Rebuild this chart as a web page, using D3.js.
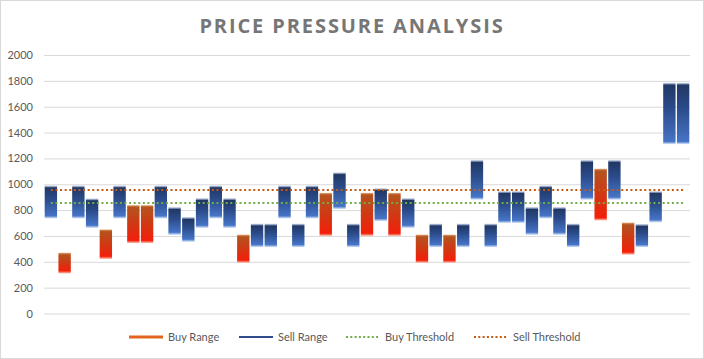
<!DOCTYPE html>
<html><head><meta charset="utf-8">
<script src="https://cdn.jsdelivr.net/npm/d3@7"></script>
<style>html,body{margin:0;padding:0;background:#fff;}svg{display:block;}</style>
</head><body><svg id="c" width="704" height="359"></svg>
<script>
const categories = d3.range(1, 48).map(String);
const buyValues = [735,470,735,662,650,735,838,838,735,608,554,662,735,662,610,513,513,735,513,735,933,808,513,933,715,933,662,610,513,610,513,880,513,700,700,608,735,608,513,880,1120,880,703,513,705,1310,1310];
const sellValues = [990,310,990,890,422,990,545,545,990,823,746,892,990,892,392,695,695,990,695,990,600,1092,695,600,969,600,892,392,695,392,695,1187,695,946,946,823,990,823,695,1187,720,1187,455,692,946,1785,1785];
const buyThreshold = categories.map(() => 855);
const sellThreshold = categories.map(() => 955);
const yTicks = [0,200,400,600,800,1000,1200,1400,1600,1800,2000];
const legendLabels = ["Buy Range","Sell Range","Buy Threshold","Sell Threshold"];
const titleText = "PRICE PRESSURE ANALYSIS";

(function(){
const svg = d3.select("#c");
const W = 704, H = 359;
const pL = 44, pR = 690, pT = 55, pB = 313.5;
const font = "Lato, 'Open Sans', sans-serif";

svg.append("rect").attr("x",0.5).attr("y",0.5).attr("width",W-1).attr("height",H-1)
  .attr("fill","#fff").attr("stroke","#d9d9d9");

const x = d3.scaleBand().domain(categories).range([pL,pR]).paddingInner(0.1).paddingOuter(0.05);
const y = d3.scaleLinear().domain([0,2000]).range([pB,pT]);

const yAxis = d3.axisLeft(y).tickValues(yTicks).tickSize(-(pR-pL)).tickPadding(11).tickFormat(d3.format("d"));
const g = svg.append("g").attr("transform",`translate(${pL},0)`).call(yAxis);
g.select(".domain").remove();
g.selectAll(".tick line").attr("stroke","#d9d9d9").attr("stroke-width",1);
g.selectAll(".tick text").attr("fill","#595959").attr("font-size","11px").attr("font-family",font);

svg.append("text").attr("x",352).attr("y",33).attr("text-anchor","middle")
  .attr("font-family","'Open Sans', sans-serif").attr("font-weight",700).attr("font-size","20px")
  .attr("letter-spacing","1.9px").attr("fill","#767676").text(titleText);

const defs = svg.append("defs");
const data = categories.map((c,i)=>({c, buy:buyValues[i], sell:sellValues[i]}));

data.forEach((d,i)=>{
  const y0 = y(Math.max(d.buy,d.sell)), y1 = y(Math.min(d.buy,d.sell));
  const h = y1 - y0;
  const f = Math.min(0.12, 2.2/h);
  const up = d.sell > d.buy;
  const gr = defs.append("linearGradient").attr("id","gr"+i).attr("x1",0).attr("y1",0).attr("x2",0).attr("y2",1);
  const stops = up ? [
    [0,"#d3dae8"],[f*0.5,"#8c9cbc"],[f,"#213865"],[0.4,"#2a4a88"],[1-f*1.2,"#4674c6"],[1-f*0.6,"#8fb0e4"],[1,"#dfe8f7"]
  ] : [
    [0,"#e6b08a"],[f*0.5,"#c9733a"],[f,"#b4531f"],[0.5,"#d03813"],[1-f*1.2,"#f41f0a"],[1-f*0.6,"#f6705a"],[1,"#f9c6bb"]
  ];
  stops.forEach(s=>gr.append("stop").attr("offset",s[0]).attr("stop-color",s[1]));
  svg.append("rect").attr("x",x(d.c)).attr("y",y0).attr("width",x.bandwidth()).attr("height",h)
    .attr("fill",`url(#gr${i})`);
});

const line = vals => d3.line().x((v,i)=>x(categories[i])+x.bandwidth()/2).y(v=>y(v))(vals);
svg.append("path").attr("d",line(buyThreshold)).attr("fill","none").attr("stroke","#70ad47")
  .attr("stroke-width",2).attr("stroke-dasharray","2,2.6");
svg.append("path").attr("d",line(sellThreshold)).attr("fill","none").attr("stroke","#c55a11")
  .attr("stroke-width",2).attr("stroke-dasharray","2,2.6");

const ly = 337;
const leg = [
  {x:129, color:"#e0641e", w:3, dash:null},
  {x:239, color:"#2f4b8a", w:2, dash:null},
  {x:346, color:"#70ad47", w:2, dash:"2,2.3"},
  {x:474, color:"#c55a11", w:2, dash:"2,2.3"}
];
leg.forEach((l,i)=>{
  const ln = svg.append("line").attr("x1",l.x).attr("x2",l.x+34).attr("y1",ly).attr("y2",ly)
    .attr("stroke",l.color).attr("stroke-width",l.w);
  if(l.dash) ln.attr("stroke-dasharray",l.dash);
  svg.append("text").attr("x",l.x+39).attr("y",ly+4).attr("font-family",font).attr("font-size","11px")
    .attr("fill","#595959").text(legendLabels[i]);
});
})();
</script></body></html>
